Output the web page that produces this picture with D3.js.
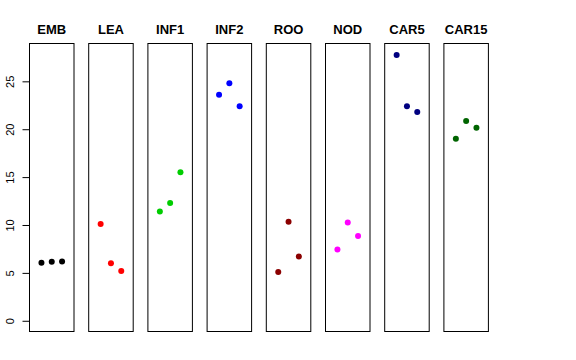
<!DOCTYPE html>
<html><head><meta charset="utf-8">
<script src="https://cdn.jsdelivr.net/npm/d3@7"></script>
<style>body{margin:0;background:#fff}svg{display:block}text{font-family:"Liberation Sans",Arial,sans-serif}</style>
</head><body><svg id="c" width="576" height="360"></svg>
<script>
const categories = ["EMB","LEA","INF1","INF2","ROO","NOD","CAR5","CAR15"];
const colors = ["#000000","#FF0000","#00CD00","#0000FF","#8B0000","#FF00FF","#000080","#006400"];
const EMB = [6.05, 6.15, 6.2];
const LEA = [10.1, 6.0, 5.2];
const INF1 = [11.4, 12.3, 15.5];
const INF2 = [23.6, 24.8, 22.4];
const ROO = [5.1, 10.35, 6.7];
const NOD = [7.45, 10.25, 8.85];
const CAR5 = [27.75, 22.4, 21.8];
const CAR15 = [19.0, 20.85, 20.15];
const seriesValues = [EMB, LEA, INF1, INF2, ROO, NOD, CAR5, CAR15];
const yTicks = [0, 5, 10, 15, 20, 25];

(function(){
const svg = d3.select("#c");
const plotTop = 43.5, plotBottom = 331.5, panelW = 44.5, step = 59.2, left0 = 29.5;
const y = d3.scaleLinear().domain([-1.12, 28.95]).range([plotBottom, plotTop]);
const x = d3.scaleLinear().domain([-0.16, 4.16]).range([0, panelW]);

categories.forEach((cat, i) => {
  const g = svg.append("g").attr("transform", `translate(${left0 + i*step},0)`);
  g.append("rect").attr("x", 0).attr("y", plotTop).attr("width", panelW).attr("height", plotBottom - plotTop)
    .attr("fill", "none").attr("stroke", "#000").attr("stroke-width", 1);
  g.append("text").attr("x", panelW/2).attr("y", 34).attr("text-anchor", "middle")
    .attr("font-weight", "bold").attr("font-size", 13).text(cat);
  g.selectAll("circle").data(seriesValues[i]).join("circle")
    .attr("cx", (d, j) => x(j + 1)).attr("cy", d => y(d)).attr("r", 3)
    .attr("fill", colors[i]);
});

const axis = d3.axisLeft(y).tickValues(yTicks).tickSize(7).tickPadding(4).tickFormat(d3.format("d"));
const ag = svg.append("g").attr("transform", `translate(${left0},0)`).call(axis);
ag.select(".domain").remove();
ag.selectAll(".tick line").attr("stroke", "#000");
ag.selectAll(".tick text").attr("font-size", 11).attr("fill", "#000")
  .attr("font-family", "Liberation Sans, Arial, sans-serif")
  .attr("text-anchor", "middle").attr("x", null)
  .attr("transform", "translate(-19,0) rotate(-90)").attr("dy", "0.35em");
})();
</script></body></html>
